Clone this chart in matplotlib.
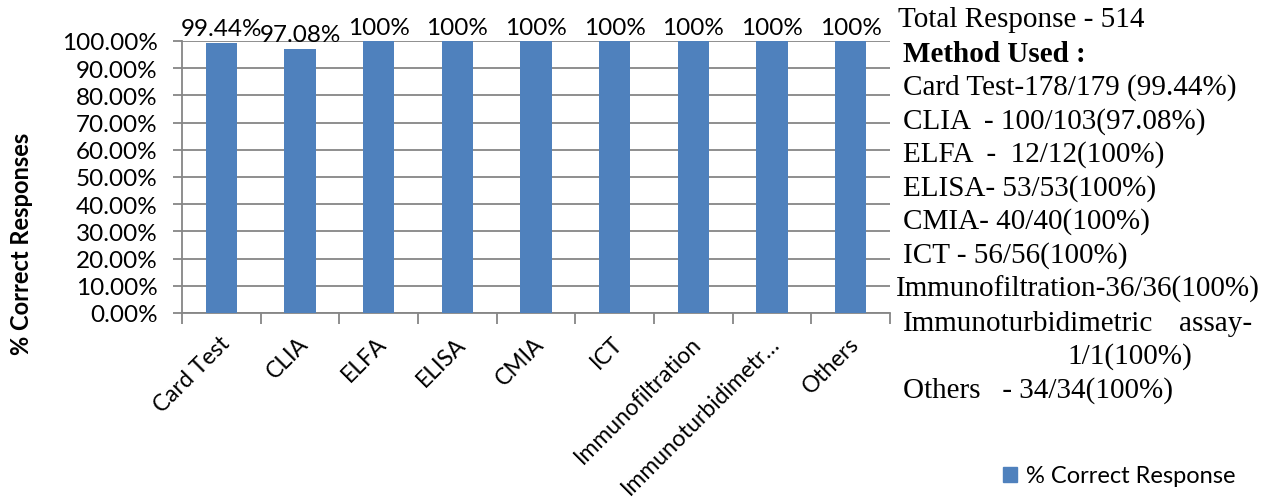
import matplotlib.pyplot as plt
import matplotlib.transforms as mtransforms
from matplotlib.ticker import PercentFormatter, FixedLocator
from matplotlib.patches import Patch

methods = ['Card Test', 'CLIA', 'ELFA', 'ELISA', 'CMIA', 'ICT',
           'Immunofiltration', 'Immunoturbidimetr…', 'Others']
pct_correct = [99.44, 97.08, 100, 100, 100, 100, 100, 100, 100]
bar_labels = ['99.44%', '97.08%', '100%', '100%', '100%', '100%', '100%', '100%', '100%']

summary_lines = [
    'Card Test-178/179 (99.44%)',
    'CLIA  - 100/103(97.08%)',
    'ELFA  -  12/12(100%)',
    'ELISA- 53/53(100%)',
    'CMIA- 40/40(100%)',
    'ICT - 56/56(100%)',
]

W, H = 1274, 502
blue = '#4F81BD'
grid_grey = '#868686'
sans = ['Lato', 'DejaVu Sans']
serif = ['Liberation Serif', 'DejaVu Serif']

plt.rcParams['font.family'] = sans

fig = plt.figure(figsize=(W / 100, H / 100), dpi=100)
ax = fig.add_axes([182 / W, 1 - 314 / H, (890 - 182) / W, 272 / H])

x = list(range(len(methods)))
ax.bar(x, pct_correct, width=0.4, color=blue, zorder=3)

for xi, v, lab in zip(x, pct_correct, bar_labels):
    ax.annotate(lab, (xi, v), xytext=(0, 2.5), textcoords='offset points',
                ha='center', va='bottom', fontsize=17.5, color='black')

ax.set_xlim(-0.5, len(methods) - 0.5)
ax.set_ylim(0, 100)
ax.set_yticks(range(0, 101, 10))
ax.yaxis.set_major_formatter(PercentFormatter(decimals=2))
ax.tick_params(axis='y', labelsize=17.5, length=6.5, color=grid_grey, width=1.3, pad=11)

ax.set_xticks(x)
ax.set_xticklabels(methods, rotation=45, ha='right', rotation_mode='anchor', fontsize=16.5)
ax.tick_params(axis='x', which='major', length=0, pad=14)
# nudge the slanted category labels a little to the left
shift = mtransforms.ScaledTranslation(-2 / 72, 0, fig.dpi_scale_trans)
for lbl in ax.get_xticklabels():
    lbl.set_transform(lbl.get_transform() + shift)
ax.xaxis.set_minor_locator(FixedLocator([i - 0.5 for i in range(len(methods) + 1)]))
ax.tick_params(axis='x', which='minor', length=8, color=grid_grey, width=1.3)

ax.yaxis.grid(True, color=grid_grey, lw=1.3, zorder=0)
ax.set_axisbelow(True)
for side in ['top', 'right']:
    ax.spines[side].set_visible(False)
for side in ['left', 'bottom']:
    ax.spines[side].set_color(grid_grey)
    ax.spines[side].set_linewidth(1.3)

fig.text(22 / W, 1 - 244 / H, '% Correct Responses', rotation=90, fontsize=17,
         fontweight='bold', ha='center', va='center')

# method summary on the right
def rtext(px, py, s, **kw):
    fig.text(px / W, 1 - py / H, s, fontsize=21, family=serif, va='baseline', **kw)

rtext(898, 27, 'Total Response - 514')
rtext(903, 62, 'Method Used :', fontweight='bold')
for i, line in enumerate(summary_lines):
    rtext(903, 95 + i * 33.5, line)
rtext(896, 297, 'Immunofiltration-36/36(100%)')
rtext(903, 331, 'Immunoturbidimetric')
rtext(1252, 331, 'assay-', ha='right')
rtext(1067, 364, '1/1(100%)')
rtext(903, 398, 'Others   - 34/34(100%)')

fig.legend(handles=[Patch(color=blue, label='% Correct Response')],
           loc='center left', bbox_to_anchor=(982 / W, 1 - 477 / H),
           frameon=False, fontsize=17, handlelength=0.6, handleheight=0.6,
           handletextpad=0.35)

fig.savefig('out.png', dpi=100)
